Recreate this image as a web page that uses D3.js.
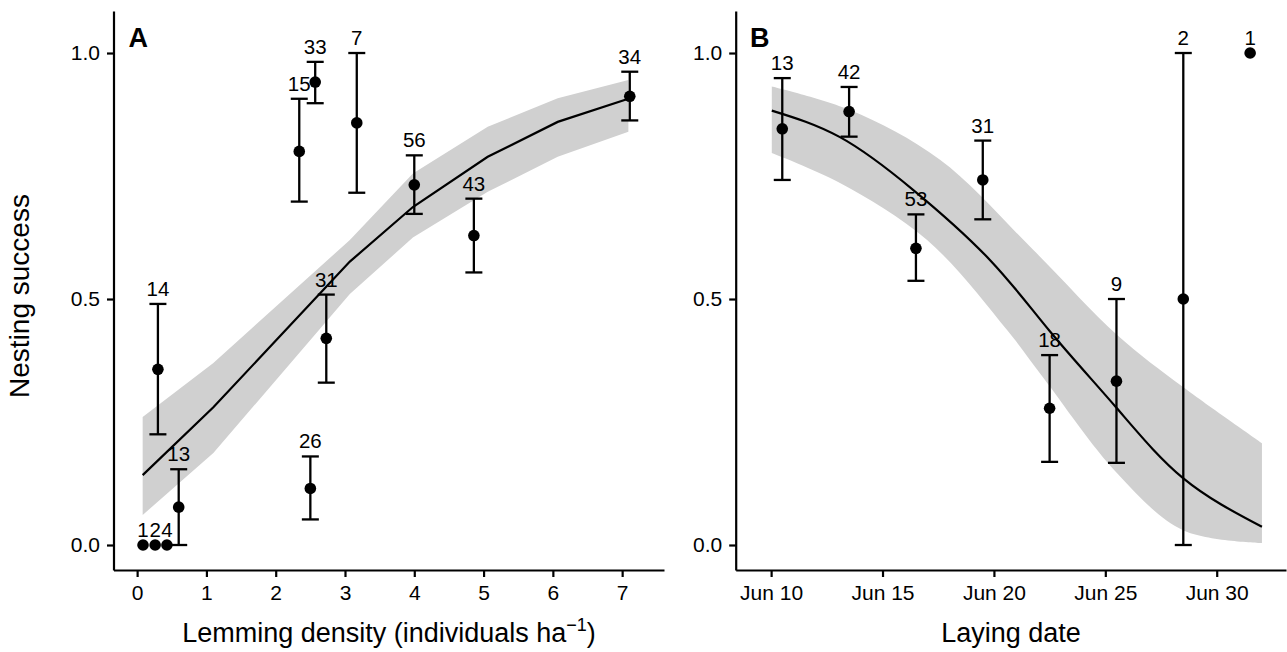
<!DOCTYPE html>
<html>
<head>
<meta charset="utf-8">
<script src="https://cdn.jsdelivr.net/npm/d3@7"></script>
<style>
  body { margin: 0; background: #fff; }
  svg { font-family: "Liberation Sans", Arial, Helvetica, sans-serif; }
  .axis path, .axis line { stroke: #000; stroke-width: 2.2; }
  .axis text { font-size: 21px; fill: #000; }
</style>
</head>
<body>
<div class="container"></div>
<script>
// Panel A: lemming density
const densityA = [0.085, 0.26, 0.43, 0.60, 0.30, 2.50, 2.73, 2.34, 2.57, 3.17, 4.00, 4.86, 7.11];
const successA = [0, 0, 0, 0.077, 0.357, 0.115, 0.420, 0.800, 0.941, 0.858, 0.732, 0.629, 0.912];
const lowerA   = [0, 0, 0, 0, 0.225, 0.052, 0.330, 0.698, 0.898, 0.716, 0.673, 0.554, 0.863];
const upperA   = [0, 0, 0, 0.154, 0.490, 0.180, 0.509, 0.907, 0.982, 1.000, 0.792, 0.704, 0.962];
const nestsA   = [1, 2, 4, 13, 14, 26, 31, 15, 33, 7, 56, 43, 34];

const fitDensityA = [0.08, 1.10, 3.07, 3.98, 5.06, 6.07, 7.09];
const fitA        = [0.142, 0.280, 0.576, 0.687, 0.789, 0.860, 0.907];
const fitLowA     = [0.061, 0.187, 0.510, 0.625, 0.718, 0.789, 0.840];
const fitHighA    = [0.260, 0.370, 0.620, 0.755, 0.850, 0.908, 0.945];

// Panel B: laying date (day of June)
const dayB     = [10.5, 13.5, 16.5, 19.5, 22.5, 25.5, 28.5, 31.5];
const successB = [0.846, 0.881, 0.603, 0.742, 0.278, 0.333, 0.5, 1.0];
const lowerB   = [0.742, 0.830, 0.537, 0.662, 0.169, 0.167, 0, 1.0];
const upperB   = [0.949, 0.931, 0.672, 0.822, 0.386, 0.500, 1.0, 1.0];
const nestsB   = [13, 42, 53, 31, 18, 9, 2, 1];

const fitDayB = [10.03, 13.09, 16.37, 19.83, 22.52, 25.48, 28.49, 32.03];
const fitB    = [0.883, 0.829, 0.722, 0.579, 0.434, 0.280, 0.136, 0.037];
const highDayB = [10.03, 13.54, 17.58, 21.76, 25.53, 28.49, 32.03];
const fitHighB = [0.932, 0.884, 0.783, 0.600, 0.427, 0.321, 0.207];
const lowDayB  = [10.03, 13.09, 17.0, 20.59, 22.2, 25.53, 28.49, 32.03];
const fitLowB  = [0.797, 0.736, 0.620, 0.437, 0.341, 0.146, 0.030, 0.004];

const yTicks = [0, 0.5, 1];
const xTicksA = [0, 1, 2, 3, 4, 5, 6, 7];
const xTicksB = [10, 15, 20, 25, 30];

const width = 1287, height = 652;
const dayToDate = (d) => new Date(new Date(2015, 5, 1).getTime() + (d - 1) * 864e5);

const svg = d3.select(".container").append("svg")
  .attr("width", width).attr("height", height);

const y = d3.scaleLinear().domain([-0.0508, 1.0854]).range([570, 11]);
const xA = d3.scaleLinear().domain([-0.341, 7.604]).range([113.5, 664]);
const xB = d3.scaleTime()
  .domain([dayToDate(8.41), dayToDate(33.11)])
  .range([735.7, 1286]);
const xBday = (d) => xB(dayToDate(d));

const band = "#d0d0d0";
const cap = 8.5;

function drawPoints(g, xs, ys, los, his, ns, xf) {
  const rows = xs.map((x, i) => ({ x, y: ys[i], lo: los[i], hi: his[i], n: ns[i] }));
  const bars = g.append("g").attr("stroke", "#000").attr("stroke-width", 2.3);
  rows.filter((d) => d.hi > d.lo).forEach((d) => {
    const px = xf(d.x);
    bars.append("line").attr("x1", px).attr("x2", px).attr("y1", y(d.lo)).attr("y2", y(d.hi));
    bars.append("line").attr("x1", px - cap).attr("x2", px + cap).attr("y1", y(d.lo)).attr("y2", y(d.lo));
    bars.append("line").attr("x1", px - cap).attr("x2", px + cap).attr("y1", y(d.hi)).attr("y2", y(d.hi));
  });
  g.append("g").selectAll("circle").data(rows).join("circle")
    .attr("cx", (d) => xf(d.x)).attr("cy", (d) => y(d.y)).attr("r", 5.8).attr("fill", "#000");
  g.append("g").selectAll("text").data(rows).join("text")
    .attr("x", (d) => xf(d.x)).attr("y", (d) => y(d.hi) - 8)
    .attr("text-anchor", "middle").attr("font-size", 20.5)
    .text((d) => d.n);
}

// ---- Panel A
const gA = svg.append("g");
gA.append("path")
  .datum(fitDensityA.map((x, i) => [x, fitLowA[i], fitHighA[i]]))
  .attr("fill", band)
  .attr("d", d3.area().x((d) => xA(d[0])).y0((d) => y(d[1])).y1((d) => y(d[2])));
gA.append("path")
  .datum(fitDensityA.map((x, i) => [x, fitA[i]]))
  .attr("fill", "none").attr("stroke", "#000").attr("stroke-width", 2.2)
  .attr("d", d3.line().x((d) => xA(d[0])).y((d) => y(d[1])));
drawPoints(gA, densityA, successA, lowerA, upperA, nestsA, xA);

gA.append("g").attr("class", "axis").attr("transform", "translate(0,570)")
  .call(d3.axisBottom(xA).tickValues(xTicksA).tickSize(7).tickPadding(8).tickSizeOuter(0));
gA.append("g").attr("class", "axis").attr("transform", "translate(113.5,0)")
  .call(d3.axisLeft(y).tickValues(yTicks).tickFormat(d3.format(".1f")).tickSize(6.5).tickPadding(7).tickSizeOuter(0));

gA.append("text").attr("x", 128.5).attr("y", 47)
  .attr("font-size", 27).attr("font-weight", "bold").text("A");

const tA = gA.append("text").attr("x", 389).attr("y", 642)
  .attr("text-anchor", "middle").attr("font-size", 27);
tA.append("tspan").text("Lemming density (individuals ha");
tA.append("tspan").attr("font-size", 18).attr("dy", -11).text("\u22121");
tA.append("tspan").attr("dy", 11).text(")");

svg.append("text")
  .attr("transform", "translate(29,296) rotate(-90)")
  .attr("text-anchor", "middle").attr("font-size", 28)
  .text("Nesting success");

// ---- Panel B
const gB = svg.append("g");
const smooth = d3.line().x((d) => xBday(d[0])).y((d) => y(d[1])).curve(d3.curveCatmullRom);
const hiPath = smooth(highDayB.map((d, i) => [d, fitHighB[i]]));
const loPath = smooth(lowDayB.map((d, i) => [d, fitLowB[i]]).reverse());
gB.append("path").attr("fill", band)
  .attr("d", hiPath + "L" + loPath.slice(1) + "Z");
gB.append("path")
  .datum(fitDayB.map((d, i) => [d, fitB[i]]))
  .attr("fill", "none").attr("stroke", "#000").attr("stroke-width", 2.2)
  .attr("d", d3.line().x((d) => xBday(d[0])).y((d) => y(d[1])).curve(d3.curveNatural));
drawPoints(gB, dayB, successB, lowerB, upperB, nestsB, xBday);

gB.append("g").attr("class", "axis").attr("transform", "translate(0,570)")
  .call(d3.axisBottom(xB)
    .tickValues(xTicksB.map(dayToDate))
    .tickFormat(d3.timeFormat("%b %d"))
    .tickSize(7).tickPadding(8).tickSizeOuter(0));
gB.append("g").attr("class", "axis").attr("transform", "translate(735.7,0)")
  .call(d3.axisLeft(y).tickValues(yTicks).tickFormat(d3.format(".1f")).tickSize(6.5).tickPadding(7).tickSizeOuter(0));

gB.append("text").attr("x", 750).attr("y", 47)
  .attr("font-size", 27).attr("font-weight", "bold").text("B");

gB.append("text").attr("x", 1011).attr("y", 642)
  .attr("text-anchor", "middle").attr("font-size", 27)
  .text("Laying date");
</script>
</body>
</html>
